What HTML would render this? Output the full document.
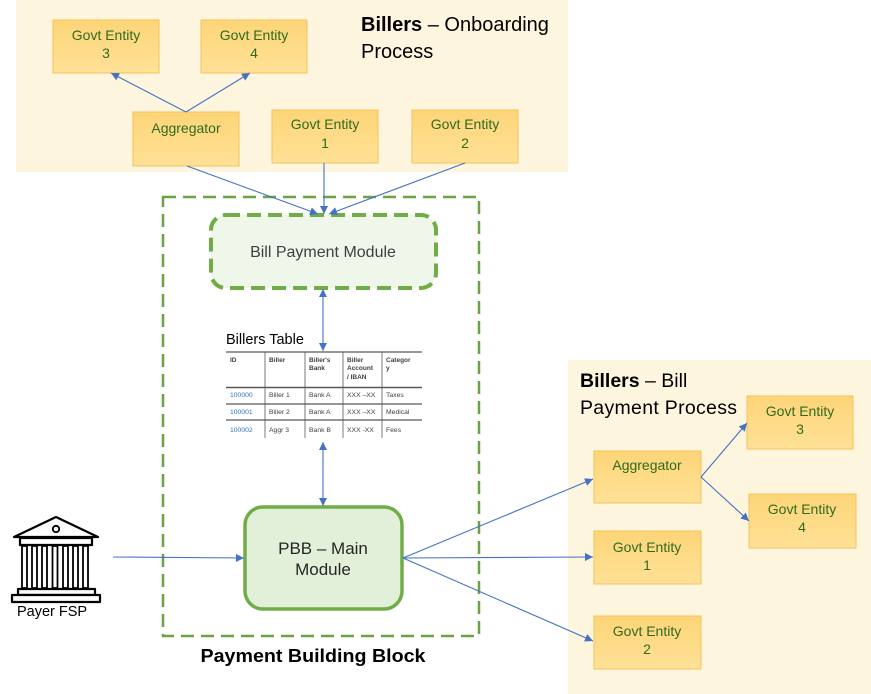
<!DOCTYPE html>
<html>
<head>
<meta charset="utf-8">
<style>
html,body{margin:0;padding:0;background:#fff;}
svg{display:block;}
text{font-family:"Liberation Sans",Arial,sans-serif;}
</style>
</head>
<body>
<svg width="871" height="694" viewBox="0 0 871 694" xmlns="http://www.w3.org/2000/svg">
<defs>
  <linearGradient id="g" x1="0" y1="0" x2="0" y2="1">
    <stop offset="0" stop-color="#FDD578"/>
    <stop offset="1" stop-color="#FFE196"/>
  </linearGradient>
  <marker id="a" viewBox="0 0 10 10" refX="10" refY="5" markerWidth="9" markerHeight="8" orient="auto-start-reverse" markerUnits="userSpaceOnUse">
    <path d="M0,0 L10,5 L0,10 z" fill="#4472C4"/>
  </marker>
</defs>

<!-- panels -->
<rect x="16" y="0" width="552" height="172" fill="#FEF5DF"/>
<rect x="568" y="360" width="303" height="334" fill="#FEF5DF"/>

<!-- top title -->
<text x="361" y="31" font-size="20" fill="#000"><tspan font-weight="bold">Billers</tspan> – Onboarding</text>
<text x="361" y="58" font-size="20" fill="#000">Process</text>

<!-- right title -->
<text x="580" y="387" font-size="19.5" fill="#000"><tspan font-weight="bold">Billers</tspan> – Bill</text>
<text x="580" y="414" font-size="19.5" fill="#000" textLength="157" lengthAdjust="spacing">Payment Process</text>

<!-- boxes -->
<g stroke="#F3C25A" stroke-width="1" fill="url(#g)">
  <rect x="53" y="20" width="106" height="53"/>
  <rect x="201" y="20" width="106" height="53"/>
  <rect x="133" y="112" width="106" height="54"/>
  <rect x="272" y="110" width="106" height="53"/>
  <rect x="412" y="110" width="106" height="53"/>
  <rect x="747" y="396" width="106" height="53"/>
  <rect x="594" y="451" width="107" height="52"/>
  <rect x="749" y="494" width="107" height="54"/>
  <rect x="594" y="531" width="107" height="53"/>
  <rect x="594" y="616" width="107" height="53"/>
</g>
<g font-size="14" fill="#2F6B1F" text-anchor="middle">
  <text x="106" y="40">Govt Entity</text><text x="106" y="58">3</text>
  <text x="254" y="40">Govt Entity</text><text x="254" y="58">4</text>
  <text x="186" y="133">Aggregator</text>
  <text x="325" y="129">Govt Entity</text><text x="325" y="148">1</text>
  <text x="465" y="129">Govt Entity</text><text x="465" y="148">2</text>
  <text x="800" y="416">Govt Entity</text><text x="800" y="434">3</text>
  <text x="647" y="470">Aggregator</text>
  <text x="802" y="514">Govt Entity</text><text x="802" y="532">4</text>
  <text x="647" y="552">Govt Entity</text><text x="647" y="570">1</text>
  <text x="647" y="636">Govt Entity</text><text x="647" y="654">2</text>
</g>

<!-- outer dashed box -->
<rect x="163" y="197" width="316" height="439" fill="none" stroke="#6AA245" stroke-width="2.5" stroke-dasharray="13 7"/>

<!-- Bill Payment Module -->
<rect x="211" y="215" width="225" height="73" rx="15" ry="15" fill="#EFF6EA" stroke="#70AD47" stroke-width="4" stroke-dasharray="14 7"/>
<text x="323" y="257" font-size="16" fill="#404040" text-anchor="middle">Bill Payment Module</text>

<!-- PBB main -->
<rect x="245" y="507" width="157" height="102" rx="18" ry="18" fill="#E2EFD9" stroke="#70AD47" stroke-width="3.5"/>
<text x="323" y="554" font-size="17" fill="#262626" text-anchor="middle">PBB – Main</text>
<text x="323" y="575" font-size="17" fill="#262626" text-anchor="middle">Module</text>

<text x="313" y="662" font-size="18" font-weight="bold" fill="#000" text-anchor="middle" textLength="225" lengthAdjust="spacingAndGlyphs">Payment Building Block</text>

<!-- Billers table -->
<text x="226" y="344" font-size="14.5" fill="#000">Billers Table</text>
<rect x="226" y="352" width="196" height="86" fill="#fff"/>
<g stroke="#595959">
  <line x1="226" y1="352" x2="422" y2="352" stroke-width="1.2"/>
  <line x1="226" y1="387.5" x2="422" y2="387.5" stroke-width="1.6"/>
  <line x1="226" y1="404" x2="422" y2="404" stroke-width="1.2"/>
  <line x1="226" y1="420" x2="422" y2="420" stroke-width="1.2"/>
  <line x1="265" y1="352" x2="265" y2="438" stroke-width="0.8"/>
  <line x1="305" y1="352" x2="305" y2="438" stroke-width="0.8"/>
  <line x1="343" y1="352" x2="343" y2="438" stroke-width="0.8"/>
  <line x1="382" y1="352" x2="382" y2="438" stroke-width="0.8"/>
</g>
<g font-size="6.5" font-weight="bold" fill="#404040">
  <text x="230" y="362">ID</text>
  <text x="269" y="362">Biller</text>
  <text x="309" y="362">Biller's</text><text x="309" y="370">Bank</text>
  <text x="347" y="362">Biller</text><text x="347" y="370">Account</text><text x="347" y="379">/ IBAN</text>
  <text x="386" y="362">Categor</text><text x="386" y="370">y</text>
</g>
<g font-size="6.8" fill="#404040">
  <text x="230" y="397" fill="#2E75B6">100000</text>
  <text x="269" y="397">Biller 1</text>
  <text x="309" y="397">Bank A</text>
  <text x="347" y="397">XXX –XX</text>
  <text x="386" y="397">Taxes</text>
  <text x="230" y="414" fill="#2E75B6">100001</text>
  <text x="269" y="414">Biller 2</text>
  <text x="309" y="414">Bank A</text>
  <text x="347" y="414">XXX –XX</text>
  <text x="386" y="414">Medical</text>
  <text x="230" y="432" fill="#2E75B6">100002</text>
  <text x="269" y="432">Aggr 3</text>
  <text x="309" y="432">Bank B</text>
  <text x="347" y="432">XXX -XX</text>
  <text x="386" y="432">Fees</text>
</g>

<!-- connectors -->
<g stroke="#4472C4" stroke-width="1.1" fill="none">
  <line x1="186" y1="112" x2="111" y2="73" marker-end="url(#a)"/>
  <line x1="186" y1="112" x2="250" y2="73" marker-end="url(#a)"/>
  <line x1="187" y1="166" x2="318" y2="214" marker-end="url(#a)"/>
  <line x1="324" y1="163" x2="324" y2="214" marker-end="url(#a)"/>
  <line x1="465" y1="163" x2="329" y2="214" marker-end="url(#a)"/>
  <line x1="323" y1="289" x2="323" y2="351" marker-start="url(#a)" marker-end="url(#a)"/>
  <line x1="323" y1="442" x2="323" y2="506" marker-start="url(#a)" marker-end="url(#a)"/>
  <line x1="113" y1="557" x2="244" y2="558" marker-end="url(#a)"/>
  <line x1="403" y1="558" x2="593" y2="479" marker-end="url(#a)"/>
  <line x1="403" y1="558" x2="593" y2="557" marker-end="url(#a)"/>
  <line x1="403" y1="558" x2="593" y2="641" marker-end="url(#a)"/>
  <line x1="701" y1="477" x2="747" y2="423" marker-end="url(#a)"/>
  <line x1="701" y1="477" x2="749" y2="521" marker-end="url(#a)"/>
</g>

<!-- bank icon -->
<g stroke="#000" stroke-width="2.2" fill="#fff" stroke-linejoin="round">
  <polygon points="56,517 14,537 98,537"/>
  <circle cx="56" cy="529" r="3.2" stroke-width="1.8"/>
  <rect x="20" y="538" width="72" height="7"/>
  <rect x="22" y="546" width="5" height="42" stroke-width="1.8"/>
  <rect x="32" y="546" width="5" height="42" stroke-width="1.8"/>
  <rect x="42" y="546" width="5" height="42" stroke-width="1.8"/>
  <rect x="52.5" y="546" width="5" height="42" stroke-width="1.8"/>
  <rect x="63" y="546" width="5" height="42" stroke-width="1.8"/>
  <rect x="73" y="546" width="5" height="42" stroke-width="1.8"/>
  <rect x="83" y="546" width="5" height="42" stroke-width="1.8"/>
  <rect x="18" y="589" width="77" height="6"/>
  <rect x="12" y="595" width="88" height="7"/>
</g>
<text x="17" y="616" font-size="14.5" fill="#000">Payer FSP</text>
</svg>
</body>
</html>
